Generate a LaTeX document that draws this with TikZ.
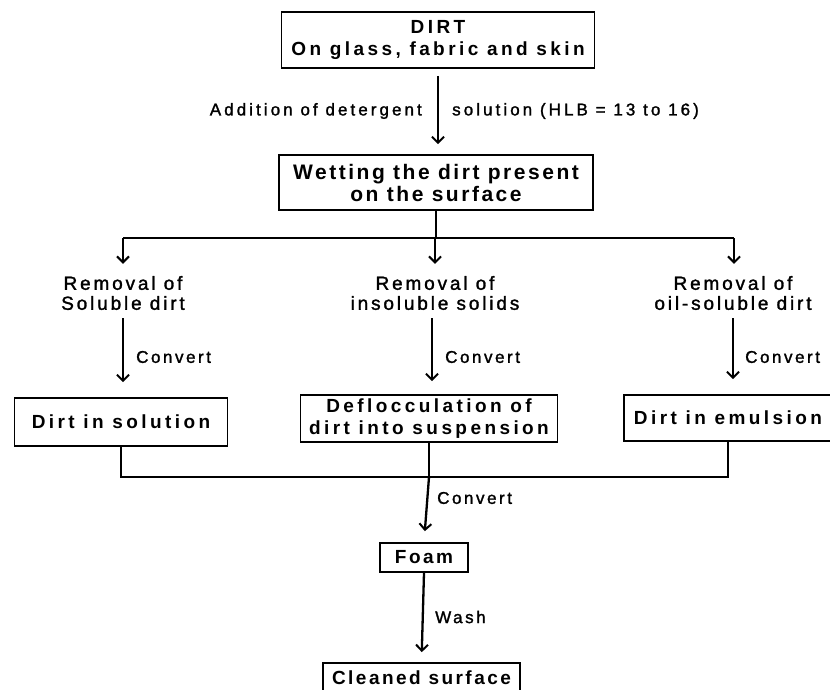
\documentclass[tikz,border=0pt]{standalone}
\usepackage{fontspec}
\usetikzlibrary{arrows.meta}
\newfontfamily\boxfont{Liberation Sans Bold}[LetterSpace=18]
\newfontfamily\boxfontn{Liberation Sans Bold}[LetterSpace=13]
\newfontfamily\boxfontw{Liberation Sans Bold}[LetterSpace=12]
\newfontfamily\lblfont{Liberation Sans}[LetterSpace=15,FakeBold=1.5]
\newfontfamily\toplblfont{Liberation Sans}[LetterSpace=18,FakeBold=1.5]
\tikzset{
  box/.style={draw=black, line width=1.8pt, inner sep=0pt, align=center,
    font=\boxfont\fontsize{19}{22}\selectfont},
  remlbl/.style={inner sep=0pt, align=center,
    font=\lblfont\fontsize{19}{20}\selectfont},
  sidelbl/.style={inner sep=0pt, anchor=west,
    font=\lblfont\fontsize{17}{20}\selectfont},
  toplbl/.style={inner sep=0pt,
    font=\toplblfont\fontsize{17}{20}\selectfont},
  conn/.style={draw=black, line width=2.3pt},
  arr/.style={conn, -{Straight Barb[length=6pt,width=12pt,line width=2pt]}}
}
\begin{document}
\begin{tikzpicture}[x=1pt,y=-1pt]
\useasboundingbox[fill=white] (0,0) rectangle (830,690);

% boxes
\node[box, minimum width=313pt, minimum height=56pt] (dirt) at (438,40)
  {DIRT\\On glass, fabric and skin};
\node[box, minimum width=314pt, minimum height=55pt,
  font=\boxfontw\fontsize{21}{22}\selectfont] (wet) at (436,182.5)
  {Wetting the dirt present\\on the surface};
\node[box, minimum width=213pt, minimum height=48pt] (sol) at (121,422)
  {Dirt in solution};
\node[box, minimum width=257pt, minimum height=47pt] (defl) at (429,418.5)
  {Deflocculation of\\dirt into suspension};
\node[box, minimum width=208pt, minimum height=46pt] (emul) at (728,418)
  {Dirt in emulsion};
\node[box, minimum width=88pt, minimum height=29pt,
  font=\boxfontn\fontsize{19}{22}\selectfont] (foam) at (424,557.5)
  {Foam};
\node[box, minimum width=197pt, minimum height=30pt,
  font=\boxfontn\fontsize{19}{22}\selectfont] (clean) at (421.5,678)
  {Cleaned surface};

% removal labels
\node[remlbl] (rem1) at (123,293) {Removal of\\Soluble dirt};
\node[remlbl] (rem2) at (435,293) {Removal of\\insoluble solids};
\node[remlbl] (rem3) at (733,293) {Removal of\\oil-soluble dirt};

% side labels
\node[toplbl, anchor=east] (add1) at (422,111) {Addition of detergent};
\node[toplbl, anchor=west] (add2) at (452,111) {solution (HLB = 13 to 16)};
\node[sidelbl] (cv1) at (136,357) {Convert};
\node[sidelbl] (cv2) at (445,357) {Convert};
\node[sidelbl] (cv3) at (745,357) {Convert};
\node[sidelbl] (cv4) at (437,498) {Convert};
\node[sidelbl] (wash) at (435,617) {Wash};

% junctions
\coordinate (jtop) at (436,238);
\coordinate (jl) at (123,238);
\coordinate (jm) at (435,238);
\coordinate (jr) at (734,238);
\coordinate (jb) at (429,477);

% connectors
\draw[arr, shorten <=7pt, shorten >=10pt] (dirt.south) -- (dirt.south |- wet.north);
\draw[conn] (wet.south) -- (jtop);
\draw[conn] (jl) -- (jr);
\draw[arr, shorten >=12pt] (jl) -- (jl |- rem1.north);
\draw[arr, shorten >=12pt] (jm) -- (jm |- rem2.north);
\draw[arr, shorten >=12pt] (jr) -- (jr |- rem3.north);
\draw[arr, shorten <=8pt, shorten >=15pt] (rem1.south) -- (rem1.south |- sol.north);
\draw[arr, shorten <=8pt, shorten >=13pt] ([xshift=-3pt]rem2.south) -- ([xshift=-3pt]rem2.south |- defl.north);
\draw[arr, shorten <=8pt, shorten >=15pt] (rem3.south) -- (rem3.south |- emul.north);
\draw[conn] (sol.south) -- (sol.south |- jb) -- (emul.south |- jb) -- (emul.south);
\draw[conn] (defl.south) -- (jb);
\draw[arr, shorten >=11pt] (jb) -- (foam.north);
\draw[arr, shorten >=10pt] (foam.south) -- (clean.north);
\end{tikzpicture}
\end{document}
